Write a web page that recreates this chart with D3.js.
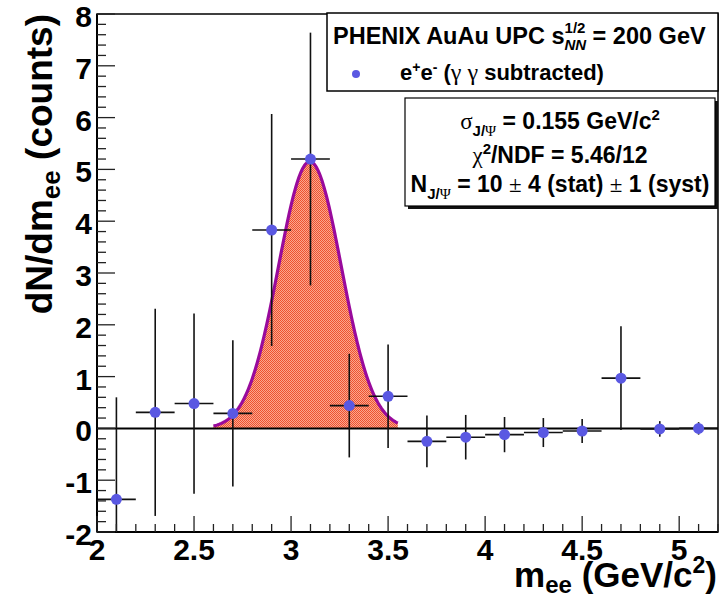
<!DOCTYPE html>
<html>
<head>
<meta charset="utf-8">
<script src="https://cdn.jsdelivr.net/npm/d3@7"></script>
<style>
  body { margin: 0; background: #fff; }
  text { font-family: "Liberation Sans", Arial, sans-serif; font-weight: bold; fill: #000; }
  .greek { font-family: "Liberation Serif", "Times New Roman", serif; font-weight: normal; }
</style>
</head>
<body>
<div id="chart"></div>
<script>
// measured points (bin centres, counts, stat errors)
var massBins = [2.1, 2.3, 2.5, 2.7, 2.9, 3.1, 3.3, 3.5, 3.7, 3.9, 4.1, 4.3, 4.5, 4.7, 4.9, 5.1];
var counts = [-1.37, 0.31, 0.48, 0.29, 3.83, 5.2, 0.44, 0.62, -0.25, -0.17, -0.12, -0.08, -0.05, 0.97, -0.01, 0.0];
var countErrors = [1.97, 2.0, 1.74, 1.41, 2.24, 2.44, 1.0, 1.0, 0.5, 0.43, 0.34, 0.28, 0.23, 1.0, 0.15, 0.12];
var binHalfWidth = 0.1;

var xTicks = [2, 2.5, 3, 3.5, 4, 4.5, 5];
var yTicks = [-2, -1, 0, 1, 2, 3, 4, 5, 6, 7, 8];

// gaussian fit
var fitAmplitude = 5.15;
var fitMean = 3.097;
var fitSigma = 0.162;
var fitRange = [2.6, 3.55];

var width = 728, height = 599;

var svg = d3.select("#chart")
  .append("svg")
  .attr("width", width)
  .attr("height", height);

var x = d3.scaleLinear().domain([2, 5.2]).range([97, 718]);
var y = d3.scaleLinear().domain([-2, 8]).range([532, 14]);

var defs = svg.append("defs");
defs.append("clipPath").attr("id", "plotclip")
  .append("rect")
  .attr("x", x(2)).attr("y", y(8))
  .attr("width", x(5.2) - x(2)).attr("height", y(-2) - y(8));

var pat = defs.append("pattern")
  .attr("id", "hatch")
  .attr("width", 2).attr("height", 2)
  .attr("patternUnits", "userSpaceOnUse");
pat.append("rect").attr("width", 2).attr("height", 2).attr("fill", "#fba68e");
pat.append("rect").attr("width", 1).attr("height", 1).attr("fill", "#ee5230");
pat.append("rect").attr("x", 1).attr("y", 1).attr("width", 1).attr("height", 1).attr("fill", "#ee5230");

var plot = svg.append("g").attr("clip-path", "url(#plotclip)");

// fit curve points
var fitX = d3.range(fitRange[0], fitRange[1] + 0.0001, 0.005);
var fitPts = fitX.map(function(m) {
  return [m, fitAmplitude * Math.exp(-(m - fitMean) * (m - fitMean) / (2 * fitSigma * fitSigma))];
});

plot.append("path")
  .datum(fitPts)
  .attr("d", d3.area().x(function(d) { return x(d[0]); }).y0(y(0)).y1(function(d) { return y(d[1]); }))
  .attr("fill", "url(#hatch)");

plot.append("path")
  .datum(fitPts)
  .attr("d", d3.line().x(function(d) { return x(d[0]); }).y(function(d) { return y(d[1]); }))
  .attr("fill", "none")
  .attr("stroke", "#990a9c")
  .attr("stroke-width", 3.2);

// zero line
plot.append("line")
  .attr("x1", x(2)).attr("x2", x(5.2))
  .attr("y1", y(0)).attr("y2", y(0))
  .attr("stroke", "#000").attr("stroke-width", 2);

// error bars
var bars = plot.selectAll(".err")
  .data(massBins)
  .enter().append("g")
  .attr("class", "err");

bars.append("line")
  .attr("x1", function(d) { return x(d); })
  .attr("x2", function(d) { return x(d); })
  .attr("y1", function(d, i) { return y(counts[i] - countErrors[i]); })
  .attr("y2", function(d, i) { return y(counts[i] + countErrors[i]); })
  .attr("stroke", "#111").attr("stroke-width", 1.6);

bars.append("line")
  .attr("x1", function(d) { return x(d - binHalfWidth); })
  .attr("x2", function(d) { return x(d + binHalfWidth); })
  .attr("y1", function(d, i) { return y(counts[i]); })
  .attr("y2", function(d, i) { return y(counts[i]); })
  .attr("stroke", "#111").attr("stroke-width", 1.6);

plot.selectAll(".pt")
  .data(massBins)
  .enter().append("circle")
  .attr("class", "pt")
  .attr("cx", function(d) { return x(d); })
  .attr("cy", function(d, i) { return y(counts[i]); })
  .attr("r", 5.5)
  .attr("fill", "#5a58e2");

// frame
svg.append("rect")
  .attr("x", x(2)).attr("y", y(8))
  .attr("width", x(5.2) - x(2)).attr("height", y(-2) - y(8))
  .attr("fill", "none").attr("stroke", "#000").attr("stroke-width", 1.5);
svg.append("line").attr("x1", x(2)).attr("x2", x(2)).attr("y1", y(8)).attr("y2", y(-2))
  .attr("stroke", "#000").attr("stroke-width", 2);
svg.append("line").attr("x1", x(2)).attr("x2", x(5.2)).attr("y1", y(-2)).attr("y2", y(-2))
  .attr("stroke", "#000").attr("stroke-width", 2);

// y ticks (inward)
svg.selectAll(".ytick")
  .data(y.ticks(50))
  .enter().append("line")
  .attr("x1", x(2))
  .attr("x2", function(d) { return Math.abs(d - Math.round(d)) < 1e-6 ? x(2) + 18 : x(2) + 9; })
  .attr("y1", function(d) { return y(d); })
  .attr("y2", function(d) { return y(d); })
  .attr("stroke", "#222").attr("stroke-width", 1.3);

// x ticks (inward)
svg.selectAll(".xtick")
  .data(x.ticks(32))
  .enter().append("line")
  .attr("x1", function(d) { return x(d); })
  .attr("x2", function(d) { return x(d); })
  .attr("y1", y(-2))
  .attr("y2", function(d) { return Math.abs(d * 2 - Math.round(d * 2)) < 1e-6 ? y(-2) - 16 : y(-2) - 8; })
  .attr("stroke", "#222").attr("stroke-width", 1.3);

svg.selectAll(".ylab")
  .data(yTicks)
  .enter().append("text")
  .attr("x", 92)
  .attr("y", function(d) { return y(d) + 13; })
  .attr("text-anchor", "end")
  .style("font-size", "30px")
  .text(function(d) { return d; });

svg.selectAll(".xlab")
  .data(xTicks)
  .enter().append("text")
  .attr("x", function(d) { return x(d); })
  .attr("y", 560)
  .attr("text-anchor", "middle")
  .style("font-size", "30px")
  .text(function(d) { return d; });

// axis titles
var xt = svg.append("text")
  .attr("x", 717).attr("y", 587)
  .attr("text-anchor", "end")
  .style("font-size", "35px");
xt.append("tspan").text("m");
xt.append("tspan").attr("dy", 6).style("font-size", "24px").text("ee");
xt.append("tspan").attr("dy", -6).text(" (GeV/c");
xt.append("tspan").attr("dy", -14).style("font-size", "23px").text("2");
xt.append("tspan").attr("dy", 14).text(")");

var yt = svg.append("text")
  .attr("transform", "translate(52," + y(8) + ") rotate(-90)")
  .attr("text-anchor", "end")
  .style("font-size", "37px");
yt.append("tspan").text("dN/dm");
yt.append("tspan").attr("dy", 8).style("font-size", "26px").text("ee");
yt.append("tspan").attr("dy", -8).text(" (counts)");

// legend box
svg.append("rect")
  .attr("x", 327).attr("y", 13).attr("width", 391).attr("height", 78)
  .attr("fill", "#fff").attr("stroke", "#000").attr("stroke-width", 1.5);

var t1 = svg.append("text")
  .attr("x", 333).attr("y", 44)
  .style("font-size", "23.5px");
t1.append("tspan").text("PHENIX AuAu UPC s");
t1.append("tspan").attr("dy", -11).style("font-size", "15px").text("1/2");
t1.append("tspan").attr("dx", -21).attr("dy", 17).style("font-size", "15px").style("font-style", "italic").text("NN");
t1.append("tspan").attr("dy", -6).text(" = 200 GeV");

svg.append("circle").attr("cx", 356).attr("cy", 74).attr("r", 4).attr("fill", "#5a58e2");
var t2 = svg.append("text")
  .attr("x", 400).attr("y", 80)
  .style("font-size", "22px");
t2.append("tspan").text("e");
t2.append("tspan").attr("dy", -8).style("font-size", "14px").text("+");
t2.append("tspan").attr("dy", 8).text("e");
t2.append("tspan").attr("dy", -8).style("font-size", "14px").text("-");
t2.append("tspan").attr("dy", 8).text(" (");
t2.append("tspan").attr("class", "greek").style("font-size", "24px").text("\u03b3 \u03b3");
t2.append("tspan").text(" subtracted)");

// fit results box
svg.append("rect")
  .attr("x", 408).attr("y", 101).attr("width", 310).attr("height", 108)
  .attr("fill", "#111");
svg.append("rect")
  .attr("x", 405).attr("y", 98).attr("width", 310).attr("height", 108)
  .attr("fill", "#fff").attr("stroke", "#000").attr("stroke-width", 1.2);

var s1 = svg.append("text").attr("x", 560).attr("y", 129).attr("text-anchor", "middle").style("font-size", "23px");
s1.append("tspan").attr("class", "greek").text("\u03c3");
s1.append("tspan").attr("dy", 7).style("font-size", "15px").text("J/");
s1.append("tspan").attr("class", "greek").style("font-size", "15px").text("\u03a8");
s1.append("tspan").attr("dy", -7).text(" = 0.155 GeV/c");
s1.append("tspan").attr("dy", -9).style("font-size", "15px").text("2");

var s2 = svg.append("text").attr("x", 560).attr("y", 163).attr("text-anchor", "middle").style("font-size", "23px");
s2.append("tspan").attr("class", "greek").text("\u03c7");
s2.append("tspan").attr("dy", -9).style("font-size", "15px").text("2");
s2.append("tspan").attr("dy", 9).text("/NDF = 5.46/12");

var s3 = svg.append("text").attr("x", 560).attr("y", 192).attr("text-anchor", "middle").style("font-size", "23px");
s3.append("tspan").text("N");
s3.append("tspan").attr("dy", 7).style("font-size", "15px").text("J/");
s3.append("tspan").attr("class", "greek").style("font-size", "15px").text("\u03a8");
s3.append("tspan").attr("dy", -7).text(" = 10 ");
s3.append("tspan").attr("class", "greek").text("\u00b1");
s3.append("tspan").text(" 4 (stat) ");
s3.append("tspan").attr("class", "greek").text("\u00b1");
s3.append("tspan").text(" 1 (syst)");
</script>
</body>
</html>
